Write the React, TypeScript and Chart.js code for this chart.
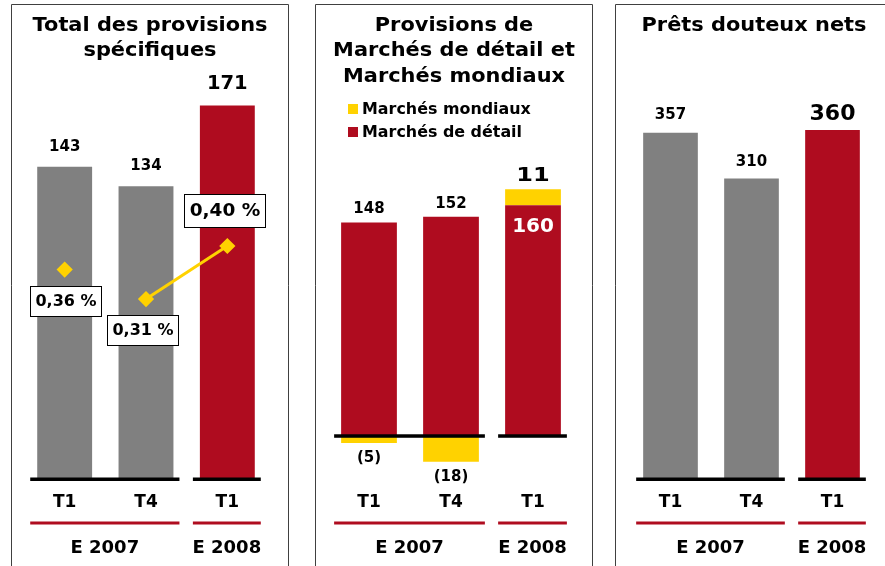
import React, { useEffect, useRef } from 'react';
import { Chart, registerables } from 'chart.js';

Chart.register(...registerables);

// ---------- data ----------
const categories = ['T1', 'T4', 'T1'];
const groupLabels = ['E 2007', 'E 2008'];
const groupRanges = [[0, 1], [2, 2]];

const provisionsTotal = [143, 134, 171];
const provisionRatio = [0.36, 0.31, 0.40];

const retailProvisions = [148, 152, 160];
const wholesaleProvisions = [-5, -18, 11];

const netImpairedLoans = [357, 310, 360];

const titles1 = ['Total des provisions', 'spécifiques'];
const titles2 = ['Provisions de', 'Marchés de détail et', 'Marchés mondiaux'];
const titles3 = ['Prêts douteux nets'];
const legend2 = ['Marchés mondiaux', 'Marchés de détail'];

// ---------- style ----------
const GRAY = '#808080';
const RED = '#AF0C1F';
const YELLOW = '#FFD200';
const FONT = "'DejaVu Sans', Verdana, sans-serif";
const font = (s: number) => `bold ${s}px ${FONT}`;
const CW = 278;
const CH = 566;

function fillStretched(ctx: CanvasRenderingContext2D, text: string, x: number, y: number, sx: number) {
  ctx.save();
  ctx.translate(x, y);
  ctx.scale(sx, 1);
  ctx.fillText(text, 0, 0);
  ctx.restore();
}

function decorPlugin(title: string[], drawLabels: (chart: any, ctx: CanvasRenderingContext2D) => void, legend?: { text: string; color: string }[]) {
  return {
    id: 'decor',
    afterDatasetsDraw(chart: any) {
      const ctx: CanvasRenderingContext2D = chart.ctx;
      const w = chart.width;
      const h = chart.height;
      const area = chart.chartArea;
      ctx.save();
      // frame
      ctx.strokeStyle = '#404040';
      ctx.lineWidth = 1;
      ctx.beginPath();
      ctx.moveTo(0.5, h);
      ctx.lineTo(0.5, 4.5);
      ctx.lineTo(w - 0.5, 4.5);
      ctx.lineTo(w - 0.5, h);
      ctx.stroke();
      // title
      ctx.fillStyle = '#000';
      ctx.textAlign = 'center';
      ctx.textBaseline = 'middle';
      ctx.font = font(19);
      title.forEach((t, i) => fillStretched(ctx, t, w / 2, 26 + i * 25.5, 1.1));
      // legend
      if (legend) {
        ctx.textAlign = 'left';
        ctx.font = font(15);
        legend.forEach((l, i) => {
          const y = 109 + i * 23;
          ctx.fillStyle = l.color;
          ctx.fillRect(33, y - 5, 10, 10);
          ctx.fillStyle = '#000';
          fillStretched(ctx, l.text, 47, y + 1, 1.06);
        });
      }
      // baselines, group underlines and group labels
      const meta = chart.getDatasetMeta(0);
      const y0 = chart.scales.y.getPixelForValue(0);
      groupRanges.forEach((g, gi) => {
        const a = meta.data[g[0]].getProps(['x', 'width'], true);
        const b = meta.data[g[1]].getProps(['x', 'width'], true);
        const x1 = a.x - a.width / 2 - 7;
        const x2 = b.x + b.width / 2 + 6;
        ctx.fillStyle = '#000';
        ctx.fillRect(x1, y0 - 1.5, x2 - x1, 3.5);
        ctx.fillStyle = RED;
        ctx.fillRect(x1, area.bottom + 42.5, x2 - x1, 3);
        ctx.fillStyle = '#000';
        ctx.font = font(18);
        ctx.textAlign = 'center';
        ctx.fillText(groupLabels[gi], (x1 + x2) / 2, area.bottom + 69);
      });
      ctx.textAlign = 'center';
      ctx.textBaseline = 'middle';
      drawLabels(chart, ctx);
      ctx.restore();
    },
  };
}

function xScale(stacked = false) {
  return {
    stacked,
    grid: { display: false, drawTicks: false },
    border: { display: false },
    ticks: { color: '#000', font: { family: FONT, size: 17, weight: 'bold' }, padding: 13 },
    afterFit: (s: any) => {
      s.height = 87;
    },
  };
}

const baseOptions = (padL: number, padR: number) => ({
  responsive: false,
  animation: false,
  layout: { padding: { top: 64, left: padL, right: padR, bottom: 0 } },
  plugins: { legend: { display: false }, title: { display: false }, tooltip: { enabled: false } },
});

function config1() {
  const ratioOffsets = [[1, 31], [-4, 31], [-3, -35]];
  const ratioFont = [16, 16, 18.5];
  const boxH = [30, 30, 33];
  return {
    type: 'bar',
    data: {
      labels: categories,
      datasets: [
        {
          type: 'bar',
          data: provisionsTotal,
          backgroundColor: [GRAY, GRAY, RED],
          barPercentage: 0.675,
          categoryPercentage: 1,
          order: 2,
        },
        {
          type: 'line',
          data: provisionRatio,
          yAxisID: 'y2',
          borderColor: YELLOW,
          borderWidth: 3,
          pointStyle: 'rectRot',
          pointRadius: 6,
          pointBackgroundColor: YELLOW,
          pointBorderColor: YELLOW,
          segment: { borderColor: (c: any) => (c.p0DataIndex === 0 ? 'rgba(0,0,0,0)' : YELLOW) },
          order: 1,
        },
      ],
    },
    options: {
      ...baseOptions(13, 21),
      scales: {
        x: xScale(),
        y: { display: false, min: 0, max: 190 },
        y2: { display: false, min: 0.0044, max: 0.709 },
      },
    },
    plugins: [
      decorPlugin(titles1, (chart, ctx) => {
        const bm = chart.getDatasetMeta(0);
        provisionsTotal.forEach((v, i) => {
          const el = bm.data[i];
          const big = i === 2;
          ctx.fillStyle = '#000';
          ctx.font = font(big ? 19.5 : 15);
          ctx.fillText(String(v), el.x, el.y - (big ? 22 : 20));
        });
        const lm = chart.getDatasetMeta(1);
        provisionRatio.forEach((v, i) => {
          const pt = lm.data[i];
          const txt = `${v.toFixed(2).replace('.', ',')} %`;
          ctx.font = font(ratioFont[i]);
          const tw = ctx.measureText(txt).width;
          const bw = Math.round(tw + 10);
          const bh = boxH[i];
          const cx = pt.x + ratioOffsets[i][0];
          const cy = pt.y + ratioOffsets[i][1];
          const bx = Math.round(cx - bw / 2);
          const by = Math.round(cy - bh / 2);
          ctx.fillStyle = '#fff';
          ctx.fillRect(bx, by, bw, bh);
          ctx.strokeStyle = '#000';
          ctx.lineWidth = 1;
          ctx.strokeRect(bx + 0.5, by + 0.5, bw, bh);
          ctx.fillStyle = '#000';
          ctx.fillText(txt, bx + bw / 2 + 0.5, by + bh / 2 + 1);
        });
      }),
    ],
  };
}

function config2() {
  return {
    type: 'bar',
    data: {
      labels: categories,
      datasets: [
        { data: retailProvisions, backgroundColor: RED, barPercentage: 0.68, categoryPercentage: 1 },
        { data: wholesaleProvisions, backgroundColor: YELLOW, barPercentage: 0.68, categoryPercentage: 1 },
      ],
    },
    options: {
      ...baseOptions(13, 19),
      scales: {
        x: xScale(true),
        y: { display: false, stacked: true, min: -30, max: 258 },
      },
    },
    plugins: [
      decorPlugin(
        titles2,
        (chart, ctx) => {
          const rm = chart.getDatasetMeta(0);
          const wm = chart.getDatasetMeta(1);
          retailProvisions.forEach((rv, i) => {
            const r = rm.data[i];
            const wEl = wm.data[i];
            const wv = wholesaleProvisions[i];
            if (wv < 0) {
              ctx.fillStyle = '#000';
              ctx.font = font(15);
              ctx.fillText(String(rv), r.x, r.y - 13);
              ctx.fillText(`(${-wv})`, wEl.x, wEl.y + 15);
            } else {
              ctx.fillStyle = '#000';
              ctx.font = font(20);
              fillStretched(ctx, String(wv), wEl.x, wEl.y - 14, 1.2);
              ctx.fillStyle = '#fff';
              ctx.fillText(String(rv), r.x, r.y + 22);
            }
          });
        },
        [
          { text: legend2[0], color: YELLOW },
          { text: legend2[1], color: RED },
        ]
      ),
    ],
  };
}

function config3() {
  const offs = [18, 16, 16];
  return {
    type: 'bar',
    data: {
      labels: categories,
      datasets: [
        {
          data: netImpairedLoans,
          backgroundColor: [GRAY, GRAY, RED],
          barPercentage: 0.675,
          categoryPercentage: 1,
        },
      ],
    },
    options: {
      ...baseOptions(15, 20),
      scales: {
        x: xScale(),
        y: { display: false, min: 0, max: 428 },
      },
    },
    plugins: [
      decorPlugin(titles3, (chart, ctx) => {
        const bm = chart.getDatasetMeta(0);
        netImpairedLoans.forEach((v, i) => {
          const el = bm.data[i];
          const big = i === 2;
          ctx.fillStyle = '#000';
          ctx.font = font(big ? 22 : 15);
          ctx.fillText(String(v), el.x, el.y - offs[i]);
        });
      }),
    ],
  };
}

function ChartCanvas({ left, make }: { left: number; make: () => any }) {
  const ref = useRef<HTMLCanvasElement>(null);
  useEffect(() => {
    const chart = new Chart(ref.current as HTMLCanvasElement, make());
    return () => chart.destroy();
  }, []);
  return (
    <canvas
      ref={ref}
      width={CW}
      height={CH}
      style={{ position: 'absolute', left, top: 0, width: CW, height: CH, display: 'block' }}
    />
  );
}

export default function App() {
  return (
    <div style={{ position: 'fixed', left: 0, top: 0, width: 885, height: 566, overflow: 'hidden', background: '#fff' }}>
      <ChartCanvas left={11} make={config1} />
      <ChartCanvas left={315} make={config2} />
      <ChartCanvas left={615} make={config3} />
    </div>
  );
}
